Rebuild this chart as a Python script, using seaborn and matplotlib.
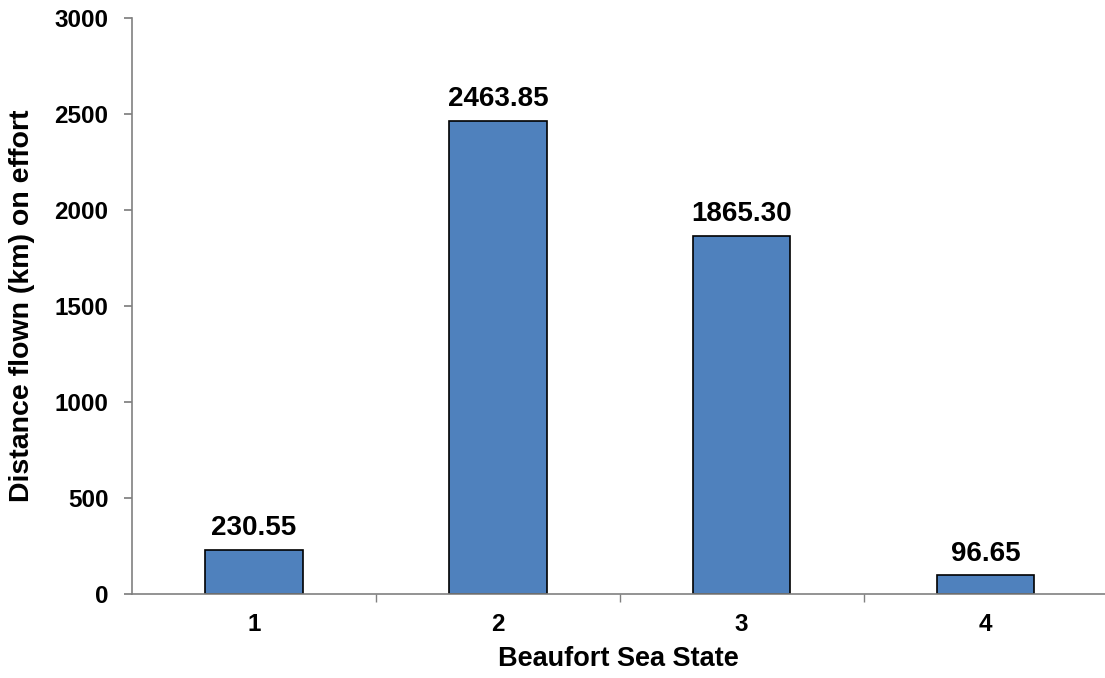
import matplotlib
matplotlib.use("Agg")
import matplotlib.pyplot as plt
import seaborn as sns
import pandas as pd

# Data
sea_states = ["1", "2", "3", "4"]
distances = [230.55, 2463.85, 1865.30, 96.65]

df = pd.DataFrame({"Beaufort Sea State": sea_states, "Distance": distances})

sns.set_theme(style="white")
plt.rcParams["font.family"] = ["Liberation Sans", "DejaVu Sans"]
plt.rcParams["font.weight"] = "bold"
plt.rcParams["text.color"] = "black"
plt.rcParams["axes.labelcolor"] = "black"

fig = plt.figure(figsize=(11.05, 6.78), dpi=100)
ax = fig.add_axes([0.1195, 0.1239, 0.8805, 0.8496])

sns.barplot(data=df, x="Beaufort Sea State", y="Distance", color="#4F81BD",
            saturation=1, width=0.4, edgecolor="black", linewidth=1.2, ax=ax)

# value labels above the bars
for i, v in enumerate(distances):
    ax.text(i, v + 45, f"{v:.2f}", ha="center", va="bottom",
            fontsize=20, fontweight="bold", color="black")

ax.set_xlim(-0.5, 3.49)
ax.set_ylim(0, 3000)
ax.set_yticks(range(0, 3001, 500))
ax.set_xlabel("Beaufort Sea State", fontsize=19.5, fontweight="bold", labelpad=7)
ax.set_ylabel("Distance flown (km) on effort", fontsize=20.5, fontweight="bold", labelpad=14)

for s in ["top", "right"]:
    ax.spines[s].set_visible(False)
for s in ["left", "bottom"]:
    ax.spines[s].set_color("#808080")
    ax.spines[s].set_linewidth(1.2)

ax.tick_params(axis="y", which="major", left=True, length=6, color="#808080",
               labelcolor="black", labelsize=17.5, pad=11)
ax.tick_params(axis="x", which="major", bottom=False, labelcolor="black",
               labelsize=17.5, pad=8)
# boundary ticks between categories
ax.set_xticks([0.5, 1.5, 2.5], minor=True)
ax.tick_params(axis="x", which="minor", bottom=True, length=6, color="#808080", width=1)
for lab in ax.get_xticklabels() + ax.get_yticklabels():
    lab.set_fontweight("bold")

plt.savefig("out.png", dpi=100)
